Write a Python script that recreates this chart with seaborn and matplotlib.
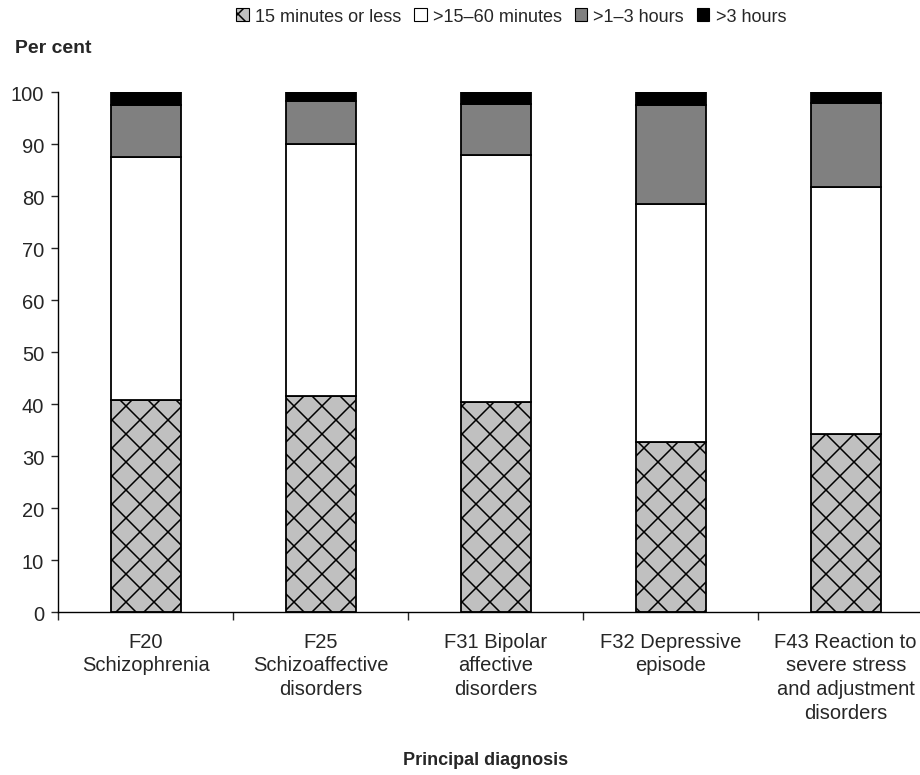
import numpy as np
import pandas as pd
import seaborn as sns
import matplotlib.pyplot as plt
from matplotlib.patches import Patch
from matplotlib.ticker import FixedLocator

categories = ["F20\nSchizophrenia", "F25\nSchizoaffective\ndisorders",
              "F31 Bipolar\naffective\ndisorders", "F32 Depressive\nepisode",
              "F43 Reaction to\nsevere stress\nand adjustment\ndisorders"]
series = ["15 minutes or less", ">15\u201360 minutes", ">1\u20133 hours", ">3 hours"]
le15 = [40.8, 41.5, 40.4, 32.7, 34.2]
m15_60 = [46.7, 48.5, 47.5, 45.8, 47.5]
h1_3 = [10.0, 8.3, 9.8, 19.0, 16.2]
gt3 = [2.5, 1.7, 2.3, 2.5, 2.1]

colors = ["#c0c0c0", "white", "#808080", "black"]
hatches = ["x", None, None, None]

# dpi 84 so the hatch spacing matches; sizes below are scaled back to look like 100 dpi
DPI = 84
S = 100 / DPI

sns.set_theme(style="white")
plt.rcParams["font.family"] = ["Liberation Sans", "DejaVu Sans"]
plt.rcParams["hatch.color"] = "#303030"
plt.rcParams["hatch.linewidth"] = 1.1 * S

df = pd.DataFrame({"cat": categories, series[0]: le15, series[1]: m15_60,
                   series[2]: h1_3, series[3]: gt3})

fig = plt.figure(figsize=(921 / DPI, 776 / DPI), dpi=DPI)
ax = fig.add_axes([0.063, 0.21, 0.937, 0.67])

bottom = np.zeros(len(categories))
for s, c, h in zip(series, colors, hatches):
  sns.barplot(data=df, x="cat", y=s, bottom=bottom, color=c, saturation=1,
              width=0.4, edgecolor="black", linewidth=1.3 * S, hatch=h, ax=ax)
  bottom = bottom + df[s].values

ax.set_ylim(0, 100)
ax.set_xlim(-0.5, 4.43)
ax.set_yticks(range(0, 101, 10))
ax.tick_params(axis="y", which="major", left=True, length=5 * S, width=1 * S,
               labelsize=14.5 * S, pad=5 * S)
ax.tick_params(axis="x", which="major", bottom=False, labelsize=14.5 * S, pad=9 * S)
ax.xaxis.set_minor_locator(FixedLocator([-0.5, 0.5, 1.5, 2.5, 3.5]))
ax.tick_params(axis="x", which="minor", bottom=True, length=6 * S, width=1 * S)
ax.set_xlabel("")
ax.set_ylabel("")
for lab in ax.get_xticklabels():
  lab.set_linespacing(1.32)
sns.despine(ax=ax, top=True, right=True)
for sp in ["left", "bottom"]:
  ax.spines[sp].set_color("black")
  ax.spines[sp].set_linewidth(1 * S)

fig.text(0.016, 0.937, "Per cent", fontsize=14 * S, fontweight="bold", ha="left", va="center")
fig.text(0.527, 0.02, "Principal diagnosis", fontsize=13 * S, fontweight="bold",
         ha="center", va="center")

handles = [Patch(facecolor=c, edgecolor="black", hatch=h, linewidth=0.8 * S)
           for c, h in zip(colors, hatches)]
fig.legend(handles, series, loc="center", bbox_to_anchor=(0.555, 0.978), ncol=4,
           frameon=False, fontsize=13 * S, handlelength=0.7, handleheight=0.7,
           handletextpad=0.35, columnspacing=0.7)

fig.savefig("out.png", dpi=DPI)
